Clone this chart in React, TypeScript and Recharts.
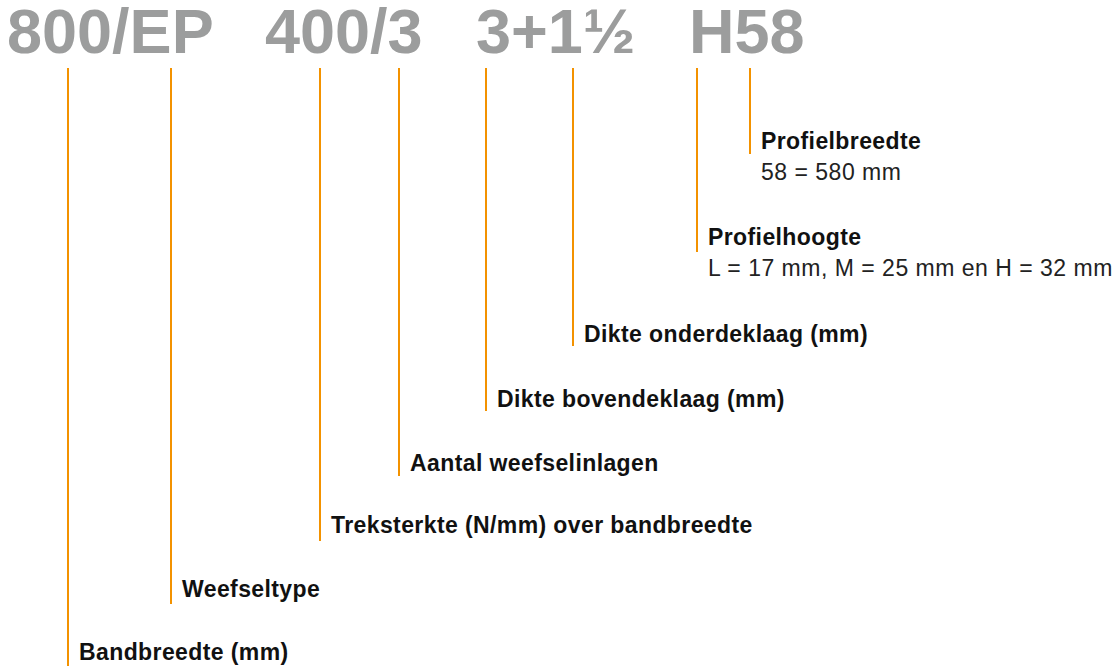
import React from 'react'
import { ComposedChart, Scatter, XAxis, YAxis, ReferenceLine } from 'recharts'

const W = 1117
const H = 666

// code header
const codeParts = ['800/EP', '400/3', '3+1½', 'H58']
const codeX = [7, 265, 476, 689]
const codeBaseline = 53

// annotation markers (x of the orange line, where it ends, where its label sits)
const markerX = [68, 171, 320, 399, 486, 573, 697, 750]
const markerTop = 68
const markerBottom = [666, 604, 541, 476, 411, 346, 252, 154]
const labelBaseline = [660, 597, 533, 471, 407, 342, 245, 149]
const labelText = [
  'Bandbreedte (mm)',
  'Weefseltype',
  'Treksterkte (N/mm) over bandbreedte',
  'Aantal weefselinlagen',
  'Dikte bovendeklaag (mm)',
  'Dikte onderdeklaag (mm)',
  'Profielhoogte',
  'Profielbreedte',
]
const subText = ['', '', '', '', '', '', 'L = 17 mm, M = 25 mm en H = 32 mm', '58 = 580 mm']

const orange = '#f39200'
const grey = '#9c9d9d'
const font = '"Liberation Sans", Arial, Helvetica, sans-serif'

const headerData = codeParts.map((text, i) => ({ x: codeX[i], y: codeBaseline, text }))
const labelData = labelText.map((text, i) => ({
  x: markerX[i] + 11,
  y: labelBaseline[i],
  text,
  sub: subText[i],
}))

const HeaderShape = (props: any) => {
  const { cx, cy, payload } = props
  return (
    <text x={cx} y={cy} fill={grey} fontFamily={font} fontWeight={700} fontSize={63}>
      {payload.text}
    </text>
  )
}

const LabelShape = (props: any) => {
  const { cx, cy, payload } = props
  return (
    <g>
      <text x={cx} y={cy} fill="#111" fontFamily={font} fontWeight={700} fontSize={23} letterSpacing={0.4}>
        {payload.text}
      </text>
      {payload.sub && (
        <text x={cx} y={cy + 31} fill="#222" fontFamily={font} fontWeight={400} fontSize={23} letterSpacing={0.5}>
          {payload.sub}
        </text>
      )}
    </g>
  )
}

export default function App() {
  return (
    <div style={{ position: 'absolute', left: 0, top: 0, width: W, height: H, background: '#fff' }}>
      <ComposedChart width={W} height={H} margin={{ top: 0, right: 0, bottom: 0, left: 0 }}>
        <XAxis type="number" dataKey="x" domain={[0, W]} hide allowDataOverflow />
        <YAxis type="number" dataKey="y" domain={[0, H]} reversed hide allowDataOverflow />
        {markerX.map((x, i) => (
          <ReferenceLine
            key={i}
            segment={[
              { x, y: markerTop },
              { x, y: markerBottom[i] },
            ]}
            stroke={orange}
            strokeWidth={2}
            ifOverflow="visible"
          />
        ))}
        <Scatter data={headerData} shape={HeaderShape} isAnimationActive={false} />
        <Scatter data={labelData} shape={LabelShape} isAnimationActive={false} />
      </ComposedChart>
    </div>
  )
}
